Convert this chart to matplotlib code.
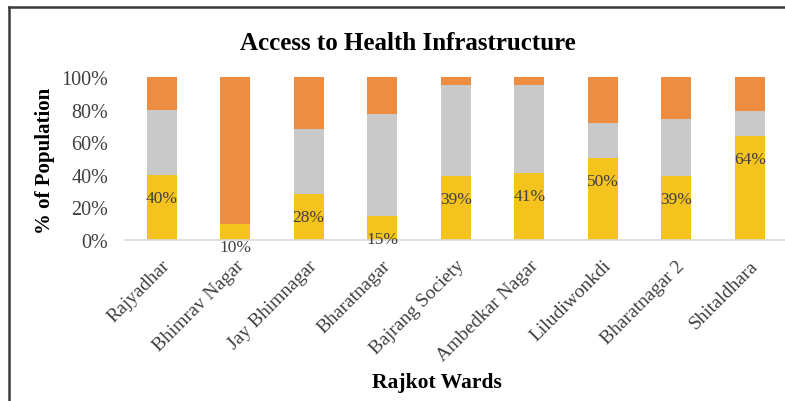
import matplotlib.pyplot as plt
import matplotlib.transforms as mtransforms
import numpy as np

plt.rcParams['font.family'] = ['Liberation Serif', 'DejaVu Serif']

wards = ['Rajyadhar', 'Bhimrav Nagar', 'Jay Bhimnagar', 'Bharatnagar', 'Bajrang Society',
         'Ambedkar Nagar', 'Liludiwonkdi', 'Bharatnagar 2', 'Shitaldhara']
# tres series apiladas (fraccion de la poblacion)
access = [40, 10, 28, 15, 39, 41, 50, 39, 64]
partial = [40, 0, 40, 62, 56, 54, 22, 35, 15]
no_access = [20, 90, 32, 23, 5, 5, 28, 26, 21]

c_yellow = '#F5C31D'
c_gray = '#C9C9C9'
c_orange = '#EC8D42'

fig = plt.figure(figsize=(7.85, 4.02), dpi=100)
ax = fig.add_axes([0.159, 0.4005, 0.843, 0.4055])

x = np.arange(len(wards))
a = np.array(access) / 100
p = np.array(partial) / 100
n = np.array(no_access) / 100
w = 0.41
ax.bar(x, a, w, color=c_yellow)
ax.bar(x, p, w, bottom=a, color=c_gray)
ax.bar(x, n, w, bottom=a + p, color=c_orange)

# etiquetas de porcentaje (cerca del extremo superior del segmento amarillo)
for i, v in enumerate(access):
    ax.annotate(f'{v}%', (x[i], v / 100), xytext=(0, -23), textcoords='offset pixels',
                ha='center', va='center', fontsize=12.5, color='#404040')

ax.set_xlim(-0.5, len(wards) - 0.5)
ax.set_ylim(0, 1.0)
ax.set_yticks(np.arange(0, 1.01, 0.2))
ax.set_yticklabels([f'{int(t)}%' for t in range(0, 101, 20)], fontsize=14.5, color='#404040')
ax.set_xticks(x)
ax.set_xticklabels(wards, rotation=45, ha='right', rotation_mode='anchor',
                   fontsize=14, color='#404040')
offset = mtransforms.ScaledTranslation(5 / 100, 0, fig.dpi_scale_trans)
for lbl in ax.get_xticklabels():
    lbl.set_transform(lbl.get_transform() + offset)
ax.tick_params(axis='both', length=0)
ax.tick_params(axis='x', pad=12)
ax.tick_params(axis='y', pad=12)
for s in ['top', 'right', 'left']:
    ax.spines[s].set_visible(False)
ax.spines['bottom'].set_color('#d9d9d9')
ax.spines['bottom'].set_linewidth(1.2)

fig.text(0.519, 0.893, 'Access to Health Infrastructure', ha='center', va='center',
         fontsize=18, fontweight='bold')
fig.text(0.057, 0.60, '% of Population', ha='center', va='center', rotation=90,
         fontsize=15, fontweight='bold')
fig.text(0.557, 0.047, 'Rajkot Wards', ha='center', va='center',
         fontsize=15.5, fontweight='bold')

# borde del cuadro (solo izquierda y arriba visibles)
fig.add_artist(plt.Line2D([0.0115, 0.0115], [0, 0.98], transform=fig.transFigure,
                          color='#3a3a3a', lw=1.8))
fig.add_artist(plt.Line2D([0.0115, 1.0], [0.98, 0.98], transform=fig.transFigure,
                          color='#3a3a3a', lw=1.8))

plt.savefig('out.png', dpi=100)
